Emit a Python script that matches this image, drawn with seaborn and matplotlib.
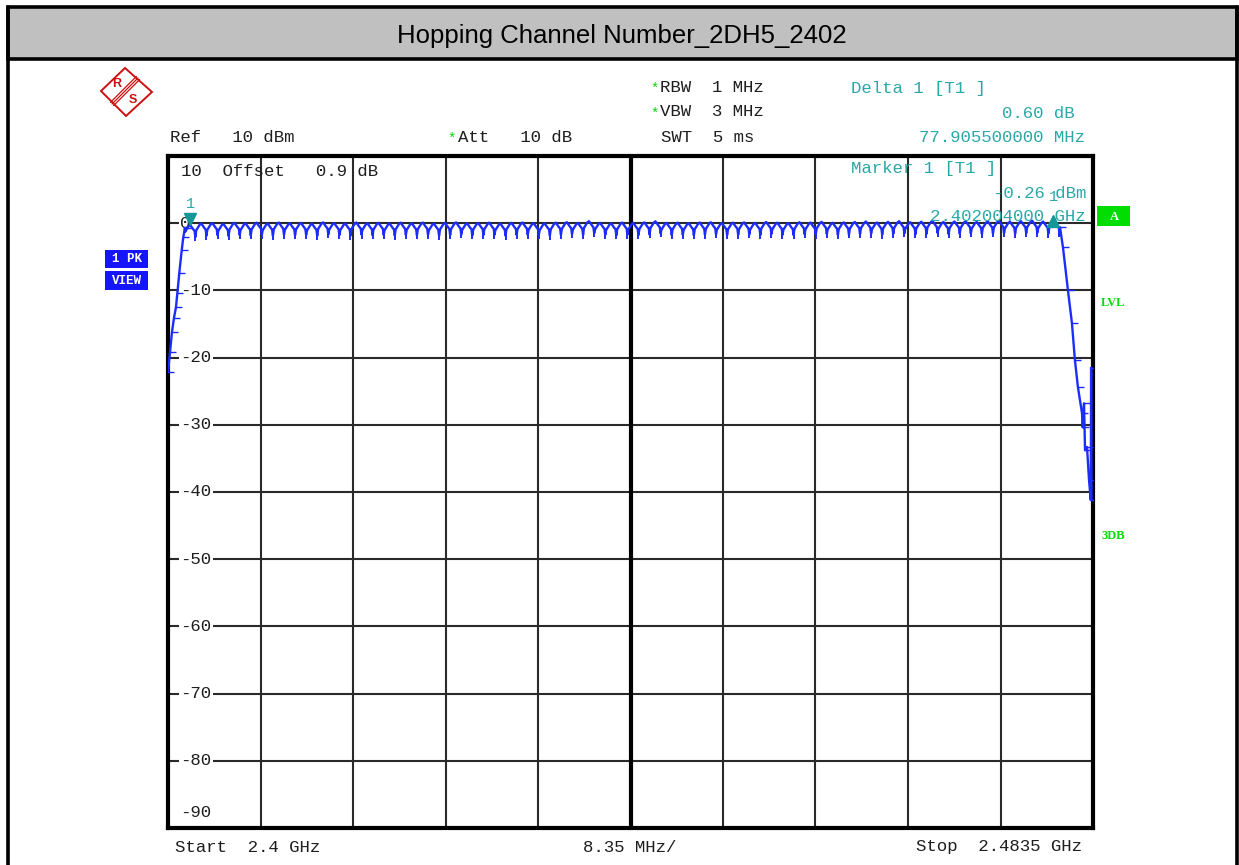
import numpy as np
import pandas as pd
import matplotlib
matplotlib.use("Agg")
import matplotlib.pyplot as plt
import matplotlib.transforms as mtransforms
from matplotlib.patches import Rectangle, Polygon
from matplotlib.lines import Line2D
import seaborn as sns

# ---------------- analyzer settings ----------------
title = "Hopping Channel Number_2DH5_2402"
start_mhz = 2400.0
stop_mhz = 2483.5
ref_level = 10
db_per_div = 10
n_div = 10

# hopping channel centres (MHz) and the peak level of each hop (dBm)
ch_freq = list(range(2402, 2481))
ch_peak = [
    -0.26, -0.05, 0.02, -0.10, 0.05, -0.02, 0.08, -0.05, 0.10, 0.00,
    0.05, -0.08, 0.12, 0.02, -0.05, 0.10, 0.00, 0.06, -0.04, 0.08,
    0.00, 0.10, -0.06, 0.05, 0.12, -0.02, 0.04, 0.08, -0.05, 0.06,
    0.10, 0.02, -0.04, 0.08, 0.15, 0.05, 0.30, 0.06, -0.02, 0.10,
    0.04, 0.12, 0.28, 0.05, 0.08, 0.00, 0.10, 0.14, 0.02, 0.08,
    0.12, 0.05, 0.18, 0.08, 0.02, 0.15, 0.10, 0.20, 0.06, 0.12,
    0.18, 0.25, 0.10, 0.20, 0.30, 0.15, 0.22, 0.35, 0.18, 0.25,
    0.30, 0.20, 0.28, 0.35, 0.22, 0.30, 0.38, 0.25, 0.34,
]
# sweep points inside one hop: offset from centre (MHz), level below peak (dB)
hop_offset = [-0.45, -0.30, -0.15, 0.00, 0.15, 0.30, 0.40, 0.47]
hop_drop = [-1.0, -0.6, -0.2, 0.0, -0.35, -0.7, -0.9, -1.8]

# lower band edge skirt
lo_freq = [2400.00, 2400.18, 2400.36, 2400.54, 2400.72, 2400.84,
           2401.02, 2401.24, 2401.38, 2401.53]
lo_level = [-22.2, -19.2, -16.2, -14.1, -12.5, -10.4, -7.4, -4.0, -2.1, -0.7]
# upper band edge skirt
hi_freq = [2480.52, 2480.79, 2481.24, 2481.60, 2481.87, 2482.14, 2482.51,
           2482.57, 2482.69, 2482.78, 2482.96, 2483.14, 2483.30, 2483.33, 2483.36]
hi_level = [-0.6, -3.6, -10.0, -14.9, -20.4, -24.4, -28.3,
            -30.4, -26.8, -33.8, -33.3, -38.2, -41.2, -21.5, -41.2]

# markers
m1_freq = 2402.004
m1_level = -0.26
d1_span = 77.9055
d1_delta = 0.60

# ---------------- build the trace ----------------
hop_f = [c + o for c in ch_freq for o in hop_offset]
hop_l = [p + d for p in ch_peak for d in hop_drop]
trace = pd.DataFrame({
    "freq": lo_freq + hop_f + hi_freq,
    "level": lo_level + hop_l + hi_level,
})
skirts = pd.DataFrame({"freq": lo_freq + hi_freq, "level": lo_level + hi_level})
# the deepest sweep point of every hop
dip_idx = int(np.argmin(hop_drop))
dips = pd.DataFrame({
    "freq": [c + hop_offset[dip_idx] for c in ch_freq],
    "level": [p + hop_drop[dip_idx] for p in ch_peak],
})

# ---------------- figure ----------------
W, H, DPI = 1239, 865, 100
sns.set_theme(style="white")
plt.rcParams["font.family"] = ["Liberation Mono", "DejaVu Sans Mono"]

fig = plt.figure(figsize=(W / DPI, H / DPI), dpi=DPI)
fig.patch.set_facecolor("white")


def fx(x):
    return x / W


def fy(y):
    return 1 - y / H


TXT = "#1e1e1e"
TEAL = "#2aa8a8"
MTEAL = "#139797"
BLUE = "#1c2cff"
GREEN = "#00dd00"
MONO = 12.5

# page frame and header band
fig.add_artist(Rectangle((fx(8), fy(59)), fx(1237) - fx(8), fy(7) - fy(59),
                         transform=fig.transFigure, facecolor="#c0c0c0",
                         edgecolor="black", lw=2.6, zorder=0))
for xp in (8, 1237):
    fig.add_artist(Line2D([fx(xp), fx(xp)], [fy(7), 0], transform=fig.transFigure,
                          color="black", lw=2.6))
fig.text(fx(622), fy(36), title, ha="center", va="center",
         family="Liberation Sans", fontsize=18.5, color="black")

# diagram area
L, R, T, B = 168, 1093, 156, 828
ax = fig.add_axes([fx(L), fy(B), fx(R) - fx(L), fy(T) - fy(B)])
ax.set_facecolor("white")
ax.set_xlim(start_mhz, stop_mhz)
ax.set_ylim(ref_level - n_div * db_per_div, ref_level)

x_div = (stop_mhz - start_mhz) / n_div
ax.set_xticks([start_mhz + k * x_div for k in range(n_div + 1)])
ax.set_yticks([ref_level - k * db_per_div for k in range(n_div + 1)])
ax.set_xticklabels([])
ax.set_yticklabels([])
ax.tick_params(length=0)
ax.grid(True, color="#2a2a2a", lw=1.5)
ax.set_axisbelow(True)
ax.axvline((start_mhz + stop_mhz) / 2, color="black", lw=3, zorder=1)
for s in ax.spines.values():
    s.set_color("black")
    s.set_linewidth(3)

# level scale written inside the grid
lab_x = (180 - L) / (R - L)
ytr = ax.get_yaxis_transform()
for k in range(1, n_div):
    v = ref_level - k * db_per_div
    ax.text(lab_x, v, f"-{abs(v)}" if v < 0 else f"{v}", transform=ytr,
            ha="left", va="center", fontsize=MONO, color=TXT, zorder=2,
            bbox=dict(facecolor="white", edgecolor="none", pad=1.0))
low = ref_level - n_div * db_per_div
ax.text(lab_x, low, f"-{abs(low)}",
        transform=ytr + mtransforms.ScaledTranslation(0, 6 / 72, fig.dpi_scale_trans),
        ha="left", va="bottom", fontsize=MONO, color=TXT, zorder=2)
ax.text(lab_x + 1 / (R - L), ref_level, f"{ref_level}  Offset   0.9 dB",
        transform=ytr + mtransforms.ScaledTranslation(0, -6 / 72, fig.dpi_scale_trans),
        ha="left", va="top", fontsize=MONO, color=TXT, zorder=2)

# trace
sns.lineplot(data=trace, x="freq", y="level", sort=False, estimator=None,
             ax=ax, color=BLUE, lw=1.7, zorder=3, legend=False)
ax.plot(skirts["freq"], skirts["level"], ls="none", marker=1, ms=4, mew=1.0,
        color=BLUE, zorder=3)
ax.plot(dips["freq"], dips["level"], ls="none", marker=3, ms=3.0, mew=1.4,
        color=BLUE, zorder=3)
ax.set_xlabel("")
ax.set_ylabel("")

# marker 1 and delta marker
up = lambda pts: ax.transData + mtransforms.ScaledTranslation(0, pts / 72, fig.dpi_scale_trans)
ax.plot([m1_freq], [m1_level], marker="v", ms=9, color=MTEAL, mec=MTEAL,
        transform=up(4.5), zorder=4, clip_on=False)
ax.text(m1_freq, m1_level, "1", transform=up(15), ha="center", va="center",
        fontsize=11, color=TEAL, zorder=4)
d1_freq = m1_freq + d1_span
d1_level = m1_level + d1_delta
ax.plot([d1_freq], [d1_level], marker="^", ms=9, color=MTEAL, mec=MTEAL,
        zorder=4, clip_on=False)
ax.text(d1_freq, d1_level, "1", transform=up(17), ha="center", va="center",
        fontsize=11, color=TEAL, zorder=4)

# ---------------- annotations ----------------
def t(x, y, s, ha="left", color=TXT, **kw):
    kw.setdefault("fontsize", MONO)
    fig.text(fx(x), fy(y), s, ha=ha, va="center", color=color, **kw)


t(170, 137, f"Ref   {ref_level} dBm")
t(447, 139, "*", color=GREEN, fontsize=10)
t(458, 137, "Att   10 dB")
t(650, 89, "*", color=GREEN, fontsize=10)
t(660, 87, "RBW  1 MHz")
t(650, 114, "*", color=GREEN, fontsize=10)
t(660, 112, "VBW  3 MHz")
t(661, 137, "SWT  5 ms")

t(851, 88, "Delta 1 [T1 ]", color=TEAL)
t(1075, 113, f"{d1_delta:.2f} dB", ha="right", color=TEAL)
t(1085, 137, f"{d1_span:.9f} MHz", ha="right", color=TEAL)
t(851, 169, "Marker 1 [T1 ]", color=TEAL)
t(1086, 193, f"{m1_level:.2f} dBm", ha="right", color=TEAL)
t(1086, 217, f"{m1_freq / 1000:.9f} GHz", ha="right", color=TEAL)

t(175, 847, f"Start  {start_mhz / 1000:g} GHz")
t(630, 847, f"{x_div:.2f} MHz/", ha="center")
t(1082, 847, f"Stop  {stop_mhz / 1000:g} GHz", ha="right")

# side indicators
fig.add_artist(Rectangle((fx(1097), fy(226)), fx(1130) - fx(1097), fy(206) - fy(226),
                         transform=fig.transFigure, facecolor=GREEN, edgecolor="none"))
t(1114, 216.5, "A", ha="center", color="white", family="Liberation Serif",
  fontweight="bold", fontsize=9)
t(1101, 303, "LVL", color=GREEN, family="Liberation Serif", fontweight="bold", fontsize=9)
t(1101, 536, "3DB", color=GREEN, family="Liberation Serif", fontweight="bold", fontsize=9)

for (y0, y1, s) in ((250, 268, "1 PK"), (271, 290, "VIEW")):
    fig.add_artist(Rectangle((fx(105), fy(y1)), fx(148) - fx(105), fy(y0) - fy(y1),
                             transform=fig.transFigure, facecolor="#1414ff",
                             edgecolor="none"))
    t(126.5, (y0 + y1) / 2, s, ha="center", color="white", fontweight="bold",
      fontsize=9)

# R&S logo
RED = "#cc1111"
fig.add_artist(Polygon([(fx(125), fy(68)), (fx(152), fy(92)), (fx(126), fy(116)),
                        (fx(101), fy(91))], closed=True, transform=fig.transFigure,
                       facecolor="white", edgecolor=RED, lw=1.4))
for d in (-1.6, 0, 1.6):
    fig.add_artist(Line2D([fx(138 + d), fx(112 + d)], [fy(78 + d), fy(104 + d)],
                          transform=fig.transFigure, color=RED, lw=0.9))
t(117, 84, "R", ha="center", color=RED, family="Liberation Sans",
  fontweight="bold", fontsize=9)
t(133, 100, "S", ha="center", color=RED, family="Liberation Sans",
  fontweight="bold", fontsize=9)

fig.savefig("out.png", dpi=DPI, facecolor="white")
